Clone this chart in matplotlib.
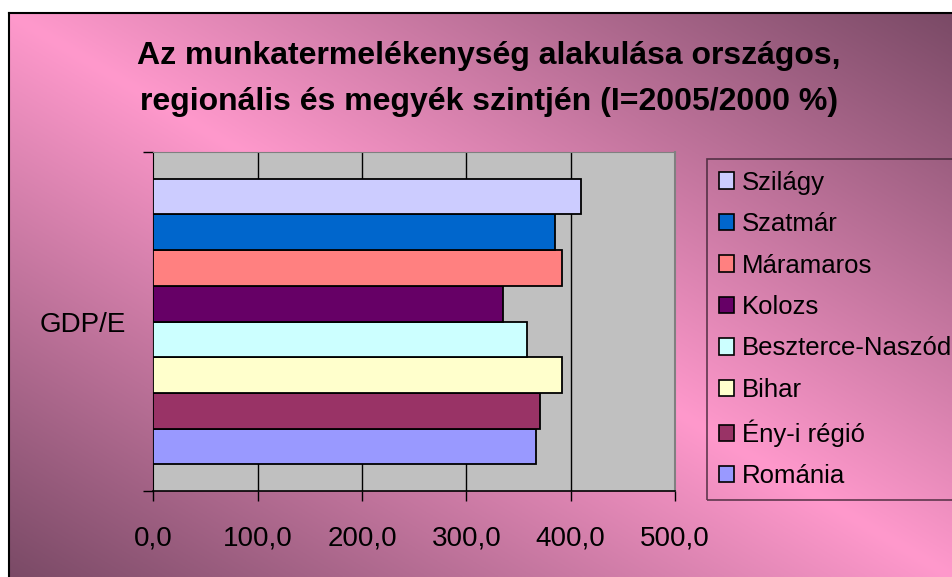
import numpy as np
import matplotlib
matplotlib.use('Agg')
import matplotlib.pyplot as plt
from matplotlib.patches import Patch

names = ['Románia', 'Ény-i régió', 'Bihar', 'Beszterce-Naszód',
         'Kolozs', 'Máramaros', 'Szatmár', 'Szilágy']
values = [367, 371, 392, 358, 335, 392, 385, 410]
colors = ['#9999FF', '#993366', '#FFFFCC', '#CCFFFF',
          '#660066', '#FF8080', '#0066CC', '#CCCCFF']
category = 'GDP/E'
xticks = [0, 100, 200, 300, 400, 500]
xticklabels = ['0,0', '100,0', '200,0', '300,0', '400,0', '500,0']
title1 = 'Az munkatermelékenység alakulása országos,'
title2 = 'regionális és megyék szintjén (I=2005/2000 %)'

plt.rcParams['font.family'] = ['Liberation Sans', 'DejaVu Sans']

W, H = 952, 577
fig = plt.figure(figsize=(W/100, H/100), dpi=100)
fig.patch.set_facecolor('white')

# gradient background of the chart area
bx0, btop = 9, 13
bg = fig.add_axes([bx0/W, 0, (W-bx0)/W, (H-btop)/H], zorder=0)
ny, nx = 300, 500
gx, gy = np.meshgrid(np.linspace(0, 1, nx), np.linspace(0, 1, ny))
t = np.abs(gx - gy)[..., None]
pink = np.array([255, 153, 204]) / 255.
dark = np.array([122, 74, 102]) / 255.
img = pink*(1-t) + dark*t
bg.imshow(img, aspect='auto', extent=[0, 1, 1, 0])
bg.set_xticks([]); bg.set_yticks([])
for s in ['left', 'top']:
    bg.spines[s].set_linewidth(1.5)
    bg.spines[s].set_color('black')
for s in ['right', 'bottom']:
    bg.spines[s].set_visible(False)

# plot area
ax = fig.add_axes([153.3/W, 1-491/H, (675-153.3)/W, (491-152)/H], zorder=2)
ax.set_facecolor('#C0C0C0')
n = len(values)
ypos = 1.25 + np.arange(n)
ax.barh(ypos, values, height=1.0, color=colors, edgecolor='black',
        linewidth=1.3, zorder=3)
ax.set_xlim(0, 500)
ax.set_ylim(0, n + 1.5)
ax.set_xticks(xticks)
ax.set_xticklabels(xticklabels, fontsize=20)
for x in xticks[1:-1]:
    ax.axvline(x, color='black', linewidth=1, zorder=1)
ax.tick_params(axis='x', direction='out', length=7.5, width=1, pad=17)
ax.set_yticks([(n + 1.5)/2])
ax.set_yticklabels([category], fontsize=20)
ax.tick_params(axis='y', length=0, pad=20)
ax.set_yticks([0, n + 1.5], minor=True)
ax.tick_params(axis='y', which='minor', direction='out', length=7.5, width=1)
ax.spines['left'].set_color('black')
ax.spines['bottom'].set_color('black')
ax.spines['top'].set_color('#808080')
ax.spines['right'].set_color('#808080')
ax.spines['right'].set_linewidth(1.5)
ax.spines['bottom'].set_linewidth(1.2)

# title
fig.text(489/W, 1-64/H, title1, ha='center', va='baseline',
         fontsize=23, fontweight='bold')
fig.text(489/W, 1-110/H, title2, ha='center', va='baseline',
         fontsize=23, fontweight='bold')

# legend
handles = [Patch(facecolor=c, edgecolor='black', linewidth=1.2, label=nm)
           for nm, c in zip(names, colors)][::-1]
leg = fig.legend(handles=handles, loc='upper left',
                 bbox_to_anchor=(707/W, 1-159/H), fontsize=18.5,
                 frameon=True, fancybox=False, handlelength=0.6,
                 handleheight=0.6, handletextpad=0.3, labelspacing=0.68,
                 borderpad=0.45, borderaxespad=0)
leg.get_frame().set_facecolor('none')
leg.get_frame().set_edgecolor('#3a2030')
leg.get_frame().set_linewidth(1.2)
leg.set_zorder(5)

fig.savefig('out.png', dpi=100)
